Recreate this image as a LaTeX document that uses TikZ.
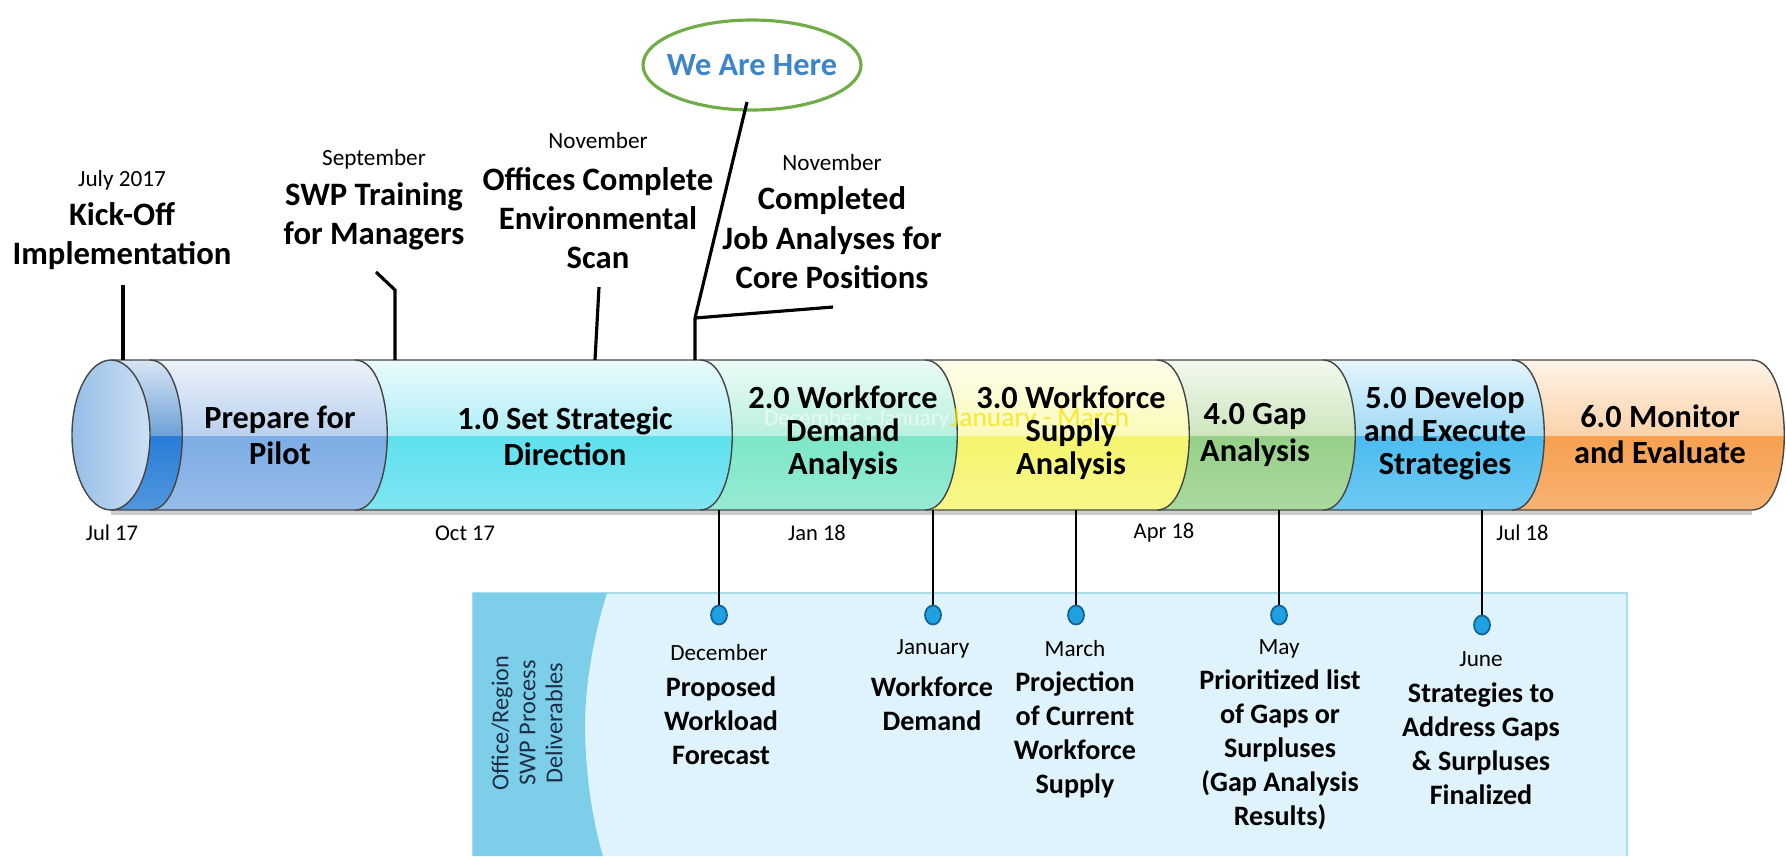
\documentclass[tikz,border=0pt]{standalone}
\usepackage{fontspec}
\setmainfont{Carlito}
\usetikzlibrary{shapes.geometric}

\definecolor{tubeGray}{RGB}{70,70,70}
\definecolor{hereGreen}{RGB}{112,173,71}
\definecolor{hereBlue}{RGB}{61,133,198}
\definecolor{panelFill}{RGB}{222,243,251}
\definecolor{panelEdge}{RGB}{170,220,236}
\definecolor{bandFill}{RGB}{125,206,232}
\definecolor{bandInk}{RGB}{30,45,70}
\definecolor{dotFill}{RGB}{30,160,225}
\definecolor{dotLine}{RGB}{20,100,150}
\definecolor{ghostYellow}{RGB}{250,225,0}
\definecolor{capLight}{RGB}{205,224,244}
\definecolor{capDark}{RGB}{150,190,232}
\definecolor{ringLight}{RGB}{110,160,215}
\definecolor{ringDark}{RGB}{40,125,215}
\definecolor{pilLight}{RGB}{185,208,238}
\definecolor{pilDark}{RGB}{125,172,228}
\definecolor{dirLight}{RGB}{175,238,246}
\definecolor{dirDark}{RGB}{95,224,238}
\definecolor{demLight}{RGB}{185,240,222}
\definecolor{demDark}{RGB}{125,230,200}
\definecolor{supLight}{RGB}{250,250,185}
\definecolor{supDark}{RGB}{245,245,110}
\definecolor{gapLight}{RGB}{205,230,190}
\definecolor{gapDark}{RGB}{150,208,135}
\definecolor{devLight}{RGB}{160,218,246}
\definecolor{devDark}{RGB}{75,188,240}
\definecolor{monLight}{RGB}{251,210,170}
\definecolor{monDark}{RGB}{246,160,80}

% one piece of the tube: left x, right x, upper colour, lower colour
\newcommand{\tubeseg}[4]{%
  \begin{scope}
    \clip (#1,360) -- (#2,360) .. controls (#2+43,360) and (#2+43,510) .. (#2,510) -- (#1,510) -- cycle;
    \fill[top color=white!75!#3, bottom color=#3] (#1-2,358) rectangle (#2+45,436);
    \fill[top color=#4, bottom color=#4!80!white] (#1-2,436) rectangle (#2+45,512);
  \end{scope}
  \draw[tubeline] (#1,360) -- (#2,360) .. controls (#2+43,360) and (#2+43,510) .. (#2,510) -- (#1,510);
}

\begin{document}
\begin{tikzpicture}[x=0.1mm, y=-0.1mm,
  tubeline/.style={draw=tubeGray, line width=0.4pt},
  phase/.style={font=\bfseries\fontsize{9.2}{9.4}\selectfont, align=center},
  phasewide/.style={phase, font=\bfseries\fontsize{9.2}{10.3}\selectfont},
  mile/.style={line width=0.9pt},
  month/.style={font=\fontsize{6.6}{7.5}\selectfont},
  headline/.style={font=\bfseries\fontsize{9.3}{11.2}\selectfont, align=center},
  axislbl/.style={font=\fontsize{6.4}{7}\selectfont},
  drop/.style={line width=0.55pt},
  dot/.style={ellipse, draw=dotLine, fill=dotFill, line width=0.5pt, minimum width=1.6mm, minimum height=1.9mm, inner sep=0pt},
  deliv/.style={font=\bfseries\fontsize{8.0}{9.7}\selectfont, align=center},
  bandlbl/.style={font=\fontsize{6.9}{7.7}\selectfont, text=bandInk, align=center}
]
\useasboundingbox (0,0) rectangle (1786,856);

% deliverables panel
\fill[panelFill] (473,593) rectangle (1627,856);
\draw[panelEdge, line width=0.6pt] (473,856) -- (473,593) -- (1627,593) -- (1627,856);
\fill[bandFill] (473,593) -- (607,593) .. controls (592,640) and (585,690) .. (585,725)
  .. controls (585,770) and (592,820) .. (603,856) -- (473,856) -- cycle;
\node[bandlbl, rotate=90] (bandLabel) at (527,723) {Office/Region\\SWP Process\\Deliverables};

% tube
\draw[gray!40, line width=1.1pt] (111,513) -- (1752,513);
\tubeseg{1512}{1752}{monLight}{monDark}
\tubeseg{1323}{1512}{devLight}{devDark}
\tubeseg{1157}{1323}{gapLight}{gapDark}
\tubeseg{925}{1157}{supLight}{supDark}
\tubeseg{700}{925}{demLight}{demDark}
\tubeseg{355}{700}{dirLight}{dirDark}
\tubeseg{150}{355}{pilLight}{pilDark}
\tubeseg{111}{150}{ringLight}{ringDark}
\draw[tubeline, left color=capDark, right color=capLight] (111,435) ellipse [x radius=39, y radius=75];

% faded leftovers
\node[font=\fontsize{6.5}{7}\selectfont, text=white, opacity=0.6, anchor=east, inner sep=0pt] (ghostA) at (950,419) {December - January};
\node[font=\fontsize{7.8}{8}\selectfont, text=ghostYellow, opacity=0.75, anchor=west, inner sep=0pt] (ghostB) at (950,419) {January - March};

% phases
\node[phasewide] (pilot)     at (280,435)  {Prepare for\\Pilot};
\node[phasewide] (direction) at (565,436)  {1.0 Set Strategic\\Direction};
\node[phase]     (demand)    at (843,433)  {2.0 Workforce\\Demand\\Analysis};
\node[phase]     (supply)    at (1071,433) {3.0 Workforce\\Supply\\Analysis};
\node[phasewide] (gap)       at (1255,435) {4.0 Gap\\Analysis};
\node[phase]     (develop)   at (1445,433) {5.0 Develop\\and Execute\\Strategies};
\node[phasewide] (monitor)   at (1660,434) {6.0 Monitor\\and Evaluate};

% dates under the tube
\node[axislbl] (jul17) at (112,533)  {Jul 17};
\node[axislbl] (oct17) at (465,533)  {Oct 17};
\node[axislbl] (jan18) at (817,533)  {Jan 18};
\node[axislbl] (apr18) at (1164,533) {Apr 18};
\node[axislbl, anchor=west] (jul18) at (1484,533) {Jul 18};

% milestones above
\node[month]    (kickMonth) at (122,180) {July 2017};
\node[headline] (kickTitle) at (122,236) {Kick-Off\\Implementation};
\node[month]    (swpMonth)  at (374,159) {September};
\node[headline] (swpTitle)  at (374,216) {SWP Training\\for Managers};
\node[month]    (scanMonth) at (598,141) {November};
\node[headline] (scanTitle) at (598,218) {Offices Complete\\Environmental\\Scan};
\node[month]    (jobMonth)  at (832,163) {November};
\node[headline] (jobTitle)  at (832,238) {Completed\\Job Analyses for\\Core Positions};
\node[text=hereBlue, font=\bfseries\fontsize{9.2}{10}\selectfont] (here) at (752,65) {We Are Here};
\draw[hereGreen, line width=0.9pt] (here.center) ellipse [x radius=109, y radius=45];

\coordinate (kickFoot) at (123,285);
\coordinate (kickBar)  at (123,360);
\coordinate (swpFoot)  at (376,272);
\coordinate (swpBend)  at (395,290);
\coordinate (swpBar)   at (395,360);
\coordinate (scanFoot) at (599,287);
\coordinate (scanBar)  at (595,360);
\coordinate (hereTail) at (747,102);
\coordinate (hereBend) at (695,318);
\coordinate (hereBar)  at (695,360);
\coordinate (hereArm)  at (833,307);

\draw[mile] (kickFoot) -- (kickBar);
\draw[mile] (swpFoot) -- (swpBend) -- (swpBar);
\draw[mile] (scanFoot) -- (scanBar);
\draw[mile] (hereTail) -- (hereBend) -- (hereBar);
\draw[mile] (hereBend) -- (hereArm);

% deliverables
\coordinate (decBar) at (719,510);
\coordinate (janBar) at (933,510);
\coordinate (marBar) at (1076,510);
\coordinate (mayBar) at (1279,510);
\coordinate (junBar) at (1482,510);
\node[dot] (decDot) at (719,615)  {};
\node[dot] (janDot) at (933,615)  {};
\node[dot] (marDot) at (1076,615) {};
\node[dot] (mayDot) at (1279,615) {};
\node[dot] (junDot) at (1482,625) {};
\draw[drop] (decBar) -- (decDot);
\draw[drop] (janBar) -- (janDot);
\draw[drop] (marBar) -- (marDot);
\draw[drop] (mayBar) -- (mayDot);
\draw[drop] (junBar) -- (junDot);

\node[month] (decMonth) at (719,653)  {December};
\node[deliv] (decTitle) at (721,721)  {Proposed\\Workload\\Forecast};
\node[month] (janMonth) at (933,649)  {January};
\node[deliv] (janTitle) at (932,704)  {Workforce\\Demand};
\node[month] (marMonth) at (1075,649) {March};
\node[deliv] (marTitle) at (1075,735) {Projection\\of Current\\Workforce\\Supply};
\node[month] (mayMonth) at (1279,649) {May};
\node[deliv] (mayTitle) at (1280,750) {Prioritized list\\of Gaps or\\Surpluses\\(Gap Analysis\\Results)};
\node[month] (junMonth) at (1481,659) {June};
\node[deliv] (junTitle) at (1481,744) {Strategies to\\Address Gaps\\\& Surpluses\\Finalized};
\end{tikzpicture}
\end{document}
